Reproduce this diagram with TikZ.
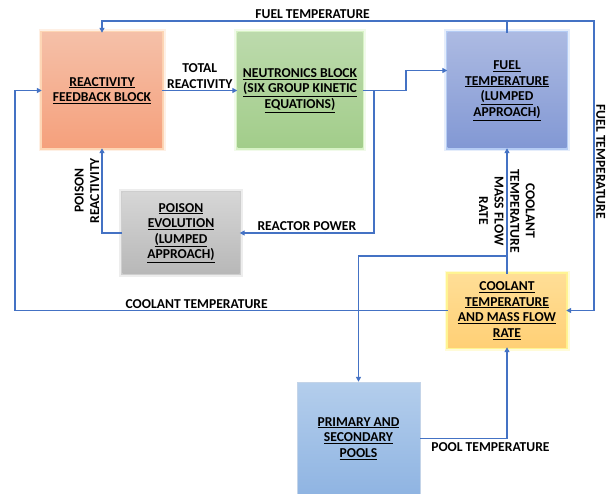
\documentclass[tikz,border=0pt]{standalone}
\usepackage{fontspec}
\setmainfont{Carlito}
\usepackage{xcolor}
\usetikzlibrary{positioning}
\usetikzlibrary{arrows.meta}
\definecolor{linkblue}{RGB}{68,114,196}
\definecolor{feedtop}{RGB}{245,192,168}
\definecolor{feedbot}{RGB}{245,160,124}
\definecolor{feedglow}{RGB}{252,196,150}
\definecolor{neutop}{RGB}{188,218,172}
\definecolor{neubot}{RGB}{162,205,138}
\definecolor{neuglow}{RGB}{198,236,172}
\definecolor{fueltop}{RGB}{172,186,226}
\definecolor{fuelbot}{RGB}{130,152,212}
\definecolor{fuelglow}{RGB}{150,182,240}
\definecolor{poistop}{RGB}{214,214,214}
\definecolor{poisbot}{RGB}{184,184,184}
\definecolor{poisglow}{RGB}{185,185,185}
\definecolor{cooltop}{RGB}{255,222,150}
\definecolor{coolbot}{RGB}{255,208,118}
\definecolor{coolglow}{RGB}{255,240,100}
\definecolor{pooltop}{RGB}{180,206,236}
\definecolor{poolbot}{RGB}{143,180,226}
\definecolor{poolline}{RGB}{196,212,232}
\tikzstyle{block} = [minimum width=120pt, minimum height=115pt, align=center, inner sep=2pt]
\tikzstyle{flow} = [draw=linkblue, line width=1.6pt, -{Triangle[length=5pt,width=5pt]}]
\tikzstyle{wire} = [draw=linkblue, line width=1.6pt]
\tikzstyle{tag} = [inner sep=1.5pt, align=center]
\tikzset{glow/.style={preaction={draw=#1,line width=7pt,draw opacity=.25},
    preaction={draw=#1,line width=3.5pt,draw opacity=.6}}}

\begin{document}
\begin{tikzpicture}[x=1pt, y=-1pt, font=\fontsize{13.6}{15.6}\selectfont\bfseries]
    \useasboundingbox (0,0) rectangle (607,494);

    % blocks of the model
    \node[block, glow=feedglow, top color=feedtop, bottom color=feedbot] (feedback) at (102,90.5)
        {\underline{REACTIVITY}\\\underline{FEEDBACK BLOCK}};
    \node[block, minimum width=125pt, glow=neuglow, top color=neutop, bottom color=neubot] (neutronics) at (300,90.5)
        {\underline{NEUTRONICS BLOCK}\\\underline{(SIX GROUP KINETIC}\\\underline{EQUATIONS)}};
    \node[block, minimum width=119pt, glow=fuelglow, top color=fueltop, bottom color=fuelbot] (fuel) at (507,90.5)
        {\underline{FUEL}\\\underline{TEMPERATURE}\\\underline{(LUMPED}\\\underline{APPROACH)}};
    \node[block, minimum width=117pt, minimum height=80pt, glow=poisglow, top color=poistop, bottom color=poisbot] (poison) at (181,233)
        {\underline{POISON}\\\underline{EVOLUTION}\\\underline{(LUMPED}\\\underline{APPROACH)}};
    \node[block, minimum width=118pt, minimum height=73pt, glow=coolglow, top color=cooltop, bottom color=coolbot] (coolant) at (507,310.5)
        {\underline{COOLANT}\\\underline{TEMPERATURE}\\\underline{AND MASS FLOW}\\\underline{RATE}};
    \node[block, minimum width=123pt, minimum height=113pt, draw=poolline, top color=pooltop, bottom color=poolbot] (pools) at (358.5,438.5)
        {\underline{PRIMARY AND}\\\underline{SECONDARY}\\\underline{POOLS}};

    % fuel temperature feedback
    \coordinate (ftsplit) at (507,21);
    \coordinate (ftright) at (594,21);
    \draw[wire] (fuel.north) -- (ftsplit);
    \draw[flow] (ftsplit) -| node[tag, above, pos=0.24] {FUEL TEMPERATURE} (feedback.north);
    \draw[flow] (ftsplit) -- (ftright) |- node[tag, above, rotate=-90, pos=0.243] {FUEL TEMPERATURE} (coolant.east);

    % reactivity and power
    \draw[flow] (feedback.east) -- node[tag, above] {TOTAL\\REACTIVITY} (neutronics.west);
    \coordinate (npsplit) at (374,90.5);
    \draw[wire] (neutronics.east) -- (npsplit);
    \draw[flow] (npsplit) -- ++(32,0) |- ([yshift=20pt]fuel.west);
    \draw[flow] (npsplit) |- node[tag, above, pos=0.75] {REACTOR POWER} (poison.east);
    \draw[flow] (poison.west) -| node[tag, above, rotate=90, pos=0.75, inner sep=2pt] {POISON\\REACTIVITY} (feedback.south);

    % coolant loop
    \draw[flow] (coolant.west) -- node[tag, above, pos=0.58] {COOLANT TEMPERATURE} ++(-433,0) |- (feedback.west);
    \coordinate (ctsplit) at (507,256);
    \draw[flow] (coolant.north) -- node[tag, midway, rotate=-90] {COOLANT\\TEMPERATURE\\MASS FLOW\\RATE} (fuel.south);
    \draw[flow] (ctsplit) -| (pools.north);
    \draw[flow] (pools.east) -| node[below right, pos=0.04] {POOL TEMPERATURE} (coolant.south);
\end{tikzpicture}
\end{document}
